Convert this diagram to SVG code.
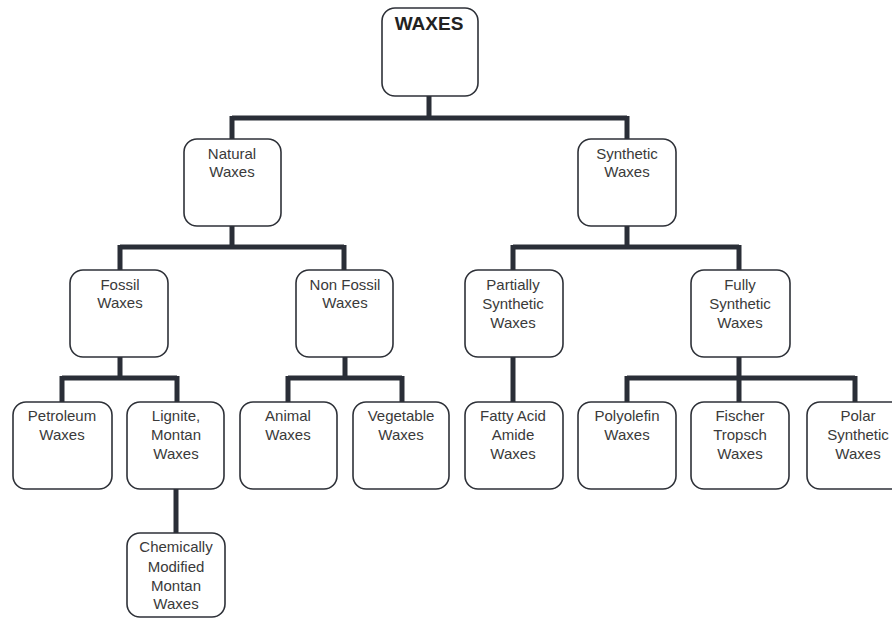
<svg xmlns="http://www.w3.org/2000/svg" width="892" height="619" viewBox="0 0 892 619">
<style>
.box{fill:#fff;stroke:#2e3138;stroke-width:1.6}
.t{font-family:"Liberation Sans",Arial,sans-serif;font-size:15px;fill:#3a3a3a;text-anchor:middle}
.h{font-family:"Liberation Sans",Arial,sans-serif;font-size:19px;font-weight:bold;fill:#222;text-anchor:middle}
.c{fill:none;stroke:#2a2e37;stroke-width:5;stroke-linecap:butt;stroke-linejoin:miter}
</style>
<rect width="892" height="619" fill="#fff"/>
<g id="connectors">
<path class="c" d="M429,96V118M232,118H627M232,116V139M627,116V139"/>
<path class="c" d="M232,226V247M120,247H344M120,245V270M344,245V270"/>
<path class="c" d="M627,226V247M513,247H739M513,245V270M739,245V270"/>
<path class="c" d="M120,357V378M62,378H177M62,376V402M177,376V402"/>
<path class="c" d="M345,357V378M288,378H402M288,376V402M402,376V402"/>
<path class="c" d="M513,357V402"/>
<path class="c" d="M739,357V402M627,378H855M627,376V402M855,376V402"/>
<path class="c" d="M176,489V533"/>
</g>
<g id="waxes"><rect class="box" x="382" y="8" width="96" height="88" rx="13"/><text class="h" x="429" y="30">WAXES</text></g>
<g id="natural"><rect class="box" x="184" y="139" width="97" height="87" rx="13"/><text class="t" x="232" y="159">Natural</text><text class="t" x="232" y="177">Waxes</text></g>
<g id="synthetic"><rect class="box" x="578" y="139" width="98" height="87" rx="13"/><text class="t" x="627" y="159">Synthetic</text><text class="t" x="627" y="177">Waxes</text></g>
<g id="fossil"><rect class="box" x="70" y="270" width="98" height="87" rx="13"/><text class="t" x="120" y="290">Fossil</text><text class="t" x="120" y="308">Waxes</text></g>
<g id="nonfossil"><rect class="box" x="296" y="270" width="97" height="87" rx="13"/><text class="t" x="345" y="290">Non Fossil</text><text class="t" x="345" y="308">Waxes</text></g>
<g id="partially"><rect class="box" x="465" y="270" width="98" height="87" rx="13"/><text class="t" x="513" y="290">Partially</text><text class="t" x="513" y="309">Synthetic</text><text class="t" x="513" y="328">Waxes</text></g>
<g id="fully"><rect class="box" x="691" y="270" width="99" height="87" rx="13"/><text class="t" x="740" y="290">Fully</text><text class="t" x="740" y="309">Synthetic</text><text class="t" x="740" y="328">Waxes</text></g>
<g id="petroleum"><rect class="box" x="13" y="402" width="99" height="87" rx="13"/><text class="t" x="62" y="421">Petroleum</text><text class="t" x="62" y="440">Waxes</text></g>
<g id="lignite"><rect class="box" x="127" y="402" width="97" height="87" rx="13"/><text class="t" x="176" y="421">Lignite,</text><text class="t" x="176" y="440">Montan</text><text class="t" x="176" y="459">Waxes</text></g>
<g id="animal"><rect class="box" x="240" y="402" width="97" height="87" rx="13"/><text class="t" x="288" y="421">Animal</text><text class="t" x="288" y="440">Waxes</text></g>
<g id="vegetable"><rect class="box" x="353" y="402" width="96" height="87" rx="13"/><text class="t" x="401" y="421">Vegetable</text><text class="t" x="401" y="440">Waxes</text></g>
<g id="fatty"><rect class="box" x="465" y="402" width="98" height="87" rx="13"/><text class="t" x="513" y="421">Fatty Acid</text><text class="t" x="513" y="440">Amide</text><text class="t" x="513" y="459">Waxes</text></g>
<g id="polyolefin"><rect class="box" x="578" y="402" width="98" height="87" rx="13"/><text class="t" x="627" y="421">Polyolefin</text><text class="t" x="627" y="440">Waxes</text></g>
<g id="fischer"><rect class="box" x="691" y="402" width="98" height="87" rx="13"/><text class="t" x="740" y="421">Fischer</text><text class="t" x="740" y="440">Tropsch</text><text class="t" x="740" y="459">Waxes</text></g>
<g id="polar"><rect class="box" x="807" y="402" width="100" height="87" rx="13"/><text class="t" x="858" y="421">Polar</text><text class="t" x="858" y="440">Synthetic</text><text class="t" x="858" y="459">Waxes</text></g>
<g id="chemically"><rect class="box" x="127" y="533" width="98" height="84" rx="13"/><text class="t" x="176" y="552">Chemically</text><text class="t" x="176" y="572">Modified</text><text class="t" x="176" y="591">Montan</text><text class="t" x="176" y="609">Waxes</text></g>
</svg>
